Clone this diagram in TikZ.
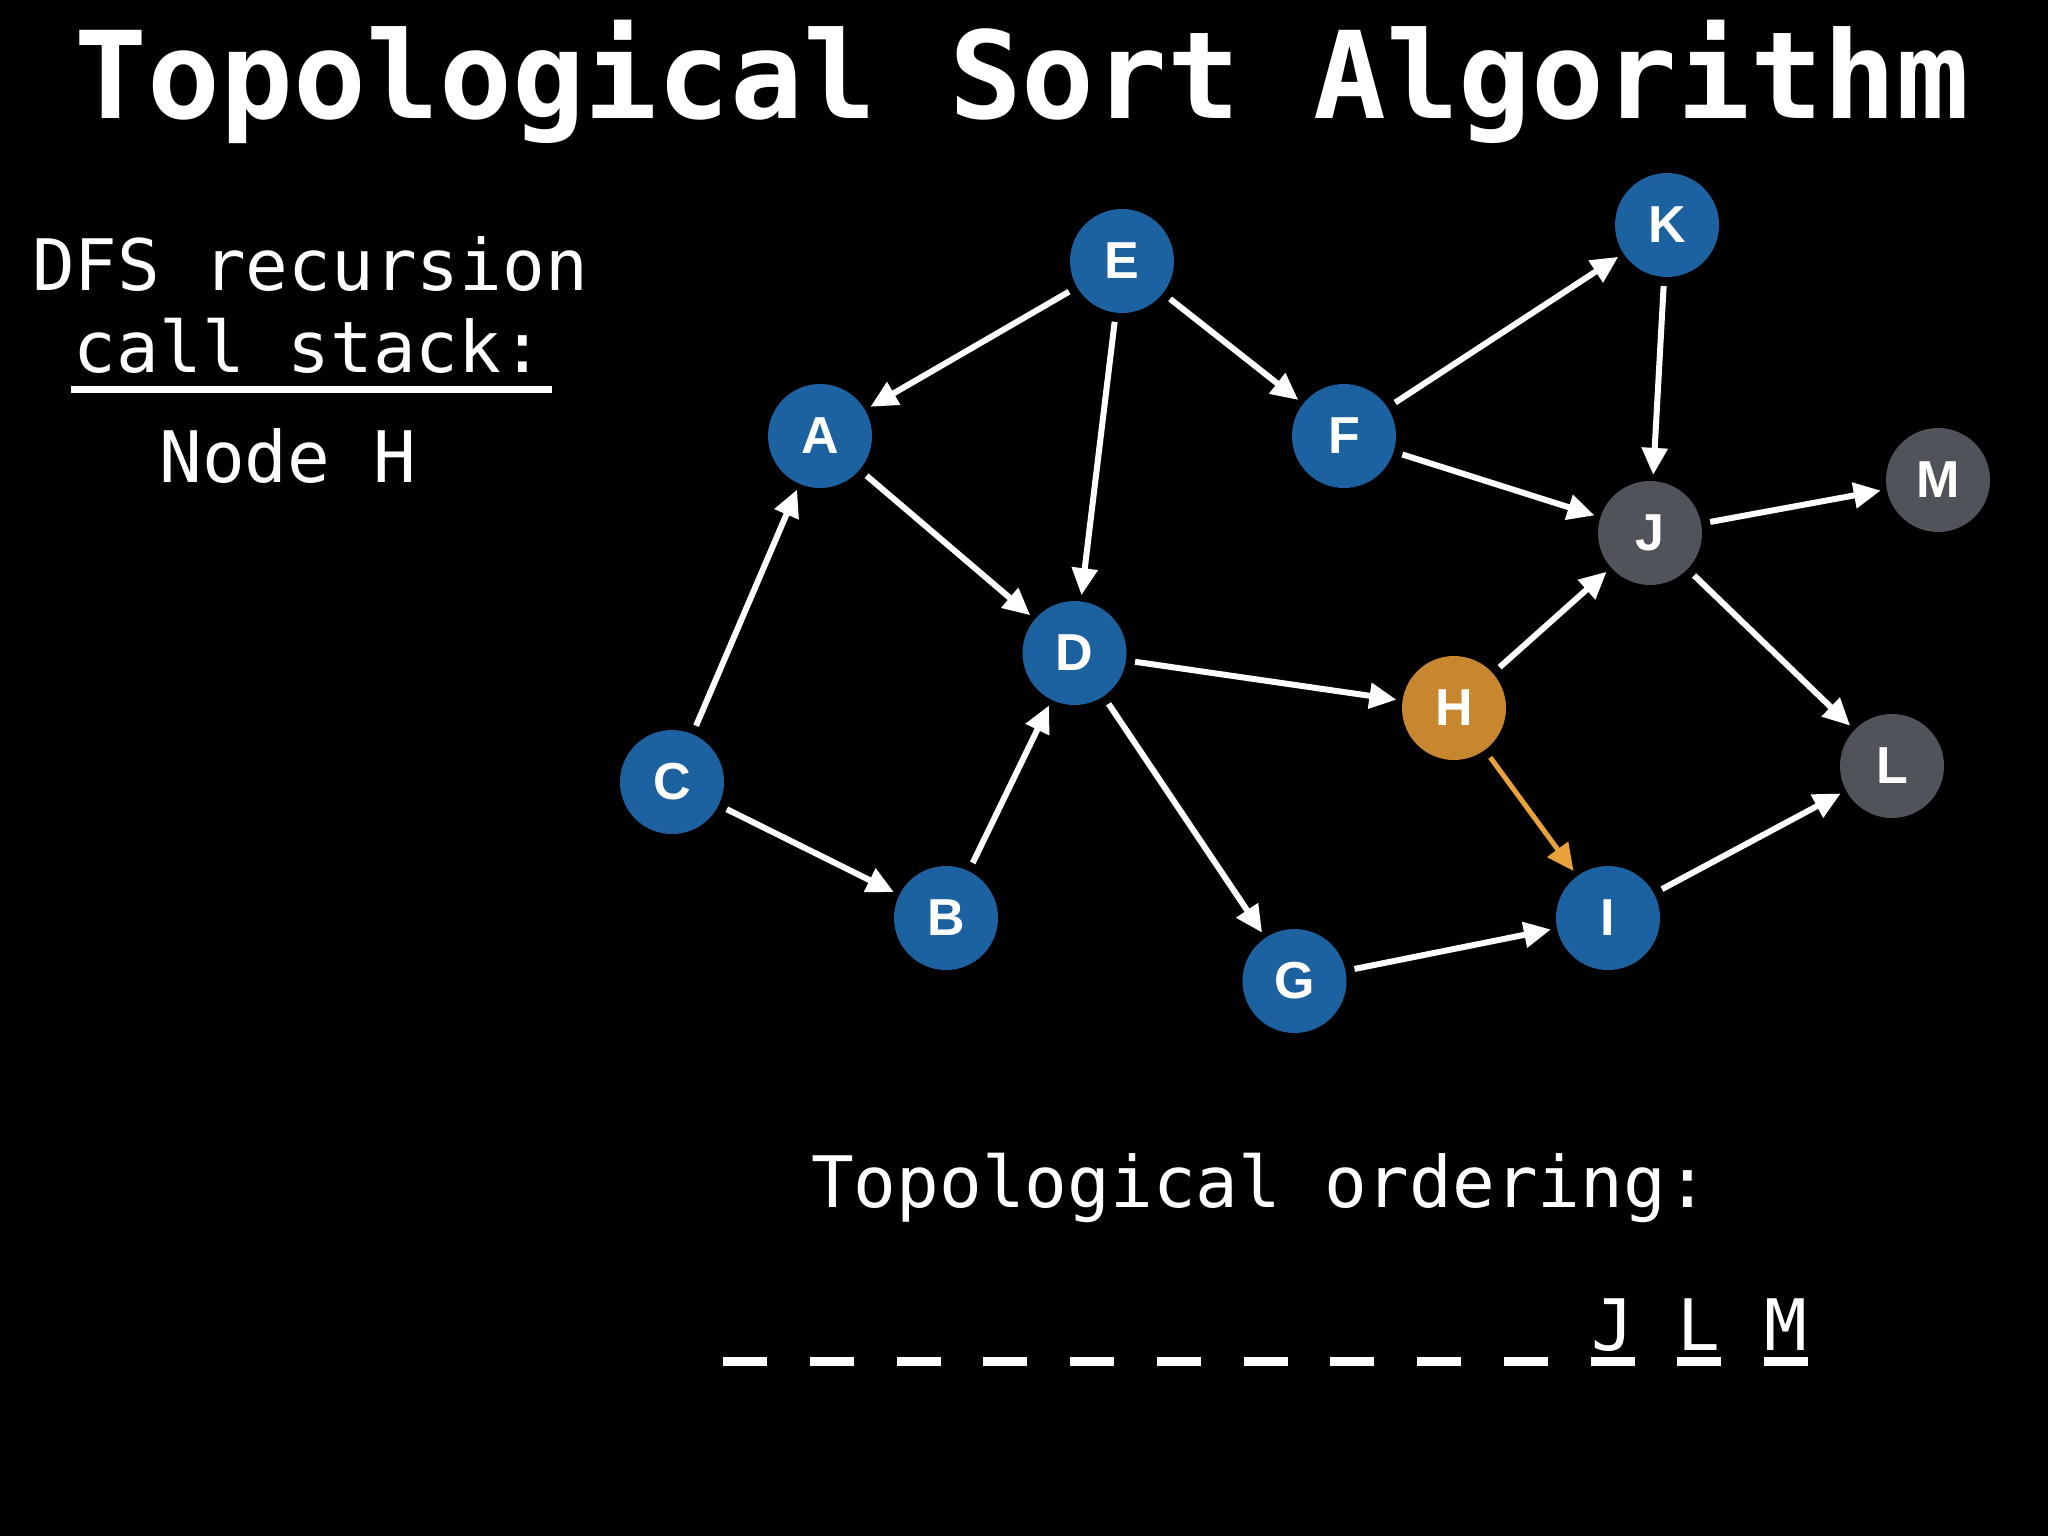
\documentclass[tikz,border=0pt]{standalone}
\usepackage{fontspec}
\usetikzlibrary{arrows.meta}
\newfontfamily\monofont{DejaVu Sans Mono}
\newfontfamily\labelfont{Liberation Sans}
\definecolor{nodeblue}{HTML}{1D62A0}
\definecolor{nodegray}{HTML}{50545A}
\definecolor{nodeorange}{HTML}{C8872F}
\definecolor{hotorange}{HTML}{E9A23B}
\begin{document}
\begin{tikzpicture}[x=1pt,y=-1pt,
  vtx/.style={circle, minimum size=104pt, inner sep=0pt, text=white,
    font=\labelfont\bfseries\fontsize{52}{52}\selectfont},
  vblue/.style={vtx, fill=nodeblue},
  vgray/.style={vtx, fill=nodegray},
  vorange/.style={vtx, fill=nodeorange},
  edge/.style={draw=white, line width=6pt, -{Triangle[length=27pt,width=25pt]},
    shorten <=9pt, shorten >=6pt},
  hotedge/.style={edge, draw=hotorange, line width=5pt},
  mono/.style={text=white, anchor=base, inner sep=0pt,
    font=\monofont\fontsize{71}{71}\selectfont},
  titlestyle/.style={text=white, anchor=base, inner sep=0pt,
    font=\monofont\bfseries\fontsize{121}{121}\selectfont}
]
\fill[black] (0,0) rectangle (2048,1536);
\useasboundingbox (0,0) rectangle (2048,1536);

% title
\node[titlestyle] (title) at (1022,119) {Topological Sort Algorithm};

% call stack
\node[mono] (dfs) at (310,290) {DFS recursion};
\node[mono] (call) at (309,372) {call stack:};
\draw[white, line width=7.3pt] (71,389.7) -- (551.6,389.7);
\node[mono] (stack) at (287.6,482) {Node H};

% graph nodes
\node[vblue] (E) at (1122,261) {E};
\node[vblue] (A) at (820,436) {A};
\node[vblue] (F) at (1344,436) {F};
\node[vblue] (K) at (1667,225) {K};
\node[vgray] (M) at (1938,480) {M};
\node[vgray] (J) at (1650,533) {J};
\node[vblue] (D) at (1074.5,653) {D};
\node[vorange] (H) at (1454,708) {H};
\node[vgray] (L) at (1892,766) {L};
\node[vblue] (C) at (672,782) {C};
\node[vblue] (B) at (946,918) {B};
\node[vblue] (I) at (1608,918) {I};
\node[vblue] (G) at (1294.5,981) {G};

% edges
\draw[edge] (E) -- (A);
\draw[edge] (E) -- (D);
\draw[edge] (E) -- (F);
\draw[edge] (A) -- (D);
\draw[edge] (C) -- (A);
\draw[edge] (C) -- (B);
\draw[edge] (B) -- (D);
\draw[edge] (D) -- (H);
\draw[edge] (D) -- (G);
\draw[edge] (F) -- (K);
\draw[edge] (F) -- (J);
\draw[edge] (K) -- (J);
\draw[edge] (J) -- (M);
\draw[edge] (J) -- (L);
\draw[edge] (H) -- (J);
\draw[edge] (G) -- (I);
\draw[edge] (I) -- (L);
\draw[hotedge] (H) -- (I);

% ordering
\node[mono] (ordtitle) at (1260,1207) {Topological ordering:};
\foreach \k in {0,...,12}
  \fill[white] ({723+\k*86.75},1356.5) rectangle +(44,9);
\node[mono] (oJ) at (1612.5,1350) {J};
\node[mono] (oL) at (1699.25,1350) {L};
\node[mono] (oM) at (1786,1350) {M};
\end{tikzpicture}
\end{document}
